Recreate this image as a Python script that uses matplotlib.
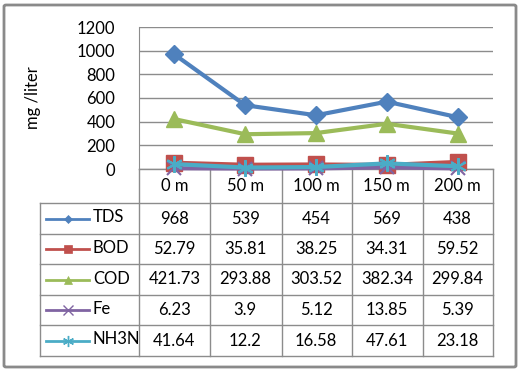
import matplotlib
matplotlib.use("Agg")
import matplotlib.pyplot as plt
import matplotlib.transforms as mtransforms
from matplotlib.patches import FancyBboxPatch

# data
categories = ["0 m", "50 m", "100 m", "150 m", "200 m"]
series_names = ["TDS", "BOD", "COD", "Fe", "NH3N"]
tds = [968, 539, 454, 569, 438]
bod = [52.79, 35.81, 38.25, 34.31, 59.52]
cod = [421.73, 293.88, 303.52, 382.34, 299.84]
fe = [6.23, 3.9, 5.12, 13.85, 5.39]
nh3n = [41.64, 12.2, 16.58, 47.61, 23.18]
yticks = [0, 200, 400, 600, 800, 1000, 1200]

series = [tds, bod, cod, fe, nh3n]
colors = ["#4F81BD", "#C0504D", "#9BBB59", "#8064A2", "#4BACC6"]
markers = ["D", "s", "^", "x", (6, 2, 0)]
msizes = [9, 11, 11, 10, 12]
key_ms = [4.5, 6, 6, 7, 8]

plt.rcParams['font.family'] = ['Lato', 'DejaVu Sans']
FS = 12
W, H = 520, 372
fig = plt.figure(figsize=(W / 100, H / 100), dpi=100)

# helper axes in pixel coordinates for the table / frame
tab = fig.add_axes([0, 0, 1, 1])
tab.set_xlim(0, W)
tab.set_ylim(H, 0)
tab.axis("off")

x0, x1, ytop, yzero = 139, 493, 27, 169
ax = fig.add_axes([x0 / W, 1 - yzero / H, (x1 - x0) / W, (yzero - ytop) / H])
ax.set_xlim(-0.5, len(categories) - 0.5)
ax.set_ylim(0, 1200)
ax.set_yticks(yticks)
ax.set_yticklabels([str(v) for v in yticks], fontsize=FS)
ax.set_xticks([])
ax.tick_params(axis="y", length=0, pad=17)
ax.yaxis.grid(True, color="#8c8c8c", lw=1)
ax.set_axisbelow(True)
for s in ["top", "right", "bottom"]:
    ax.spines[s].set_visible(False)
ax.spines["left"].set_color("#8c8c8c")
ax.patch.set_alpha(0)
ax.set_ylabel("mg /liter", fontsize=FS, labelpad=26)

xs = list(range(len(categories)))
for vals, c, m, ms in zip(series, colors, markers, msizes):
    mew = 1.5 if m in ("x",) or isinstance(m, tuple) else 1
    ax.plot(xs, vals, color=c, lw=3, marker=m, ms=ms, mec=c, mfc=c,
            mew=mew, clip_on=False, zorder=3)

# outer frame
fig.patches.append(FancyBboxPatch((4 / W, 5 / H), 512 / W, 362 / H,
                                  boxstyle="round,pad=0,rounding_size=0.004",
                                  transform=fig.transFigure, fill=False,
                                  ec="#8a8a8a", lw=2))

# data table
row_y = [169, 203, 234, 264, 295, 325, 356]
col_x = [139, 210, 282, 352, 423, 493]
gc = "#8c8c8c"
tab.plot([x0, x1], [yzero, yzero], color=gc, lw=1)
for x in col_x:
    tab.plot([x, x], [169, 356], color=gc, lw=1)
tab.plot([40, 40], [203, 356], color=gc, lw=1)
for y in row_y[1:]:
    tab.plot([40, x1], [y, y], color=gc, lw=1)

blend = mtransforms.blended_transform_factory(ax.transData, tab.transData)
for i, cat in enumerate(categories):
    tab.text(i, (row_y[0] + row_y[1]) / 2, cat, transform=blend,
             ha="center", va="center", fontsize=FS)
for r, (name, vals, c, m, kms) in enumerate(zip(series_names, series, colors, markers, key_ms)):
    yc = (row_y[r + 1] + row_y[r + 2]) / 2
    tab.plot([46, 89], [yc, yc], color=c, lw=2)
    tab.plot([67.5], [yc], marker=m, color=c, ms=kms,
             mew=1 if m in ("x",) or isinstance(m, tuple) else 0.5)
    tab.text(93, yc - 1, name, ha="left", va="center", fontsize=FS)
    for i, v in enumerate(vals):
        tab.text(i, yc, f"{v:g}", transform=blend, ha="center", va="center", fontsize=FS)

fig.savefig("out.png", dpi=100)
